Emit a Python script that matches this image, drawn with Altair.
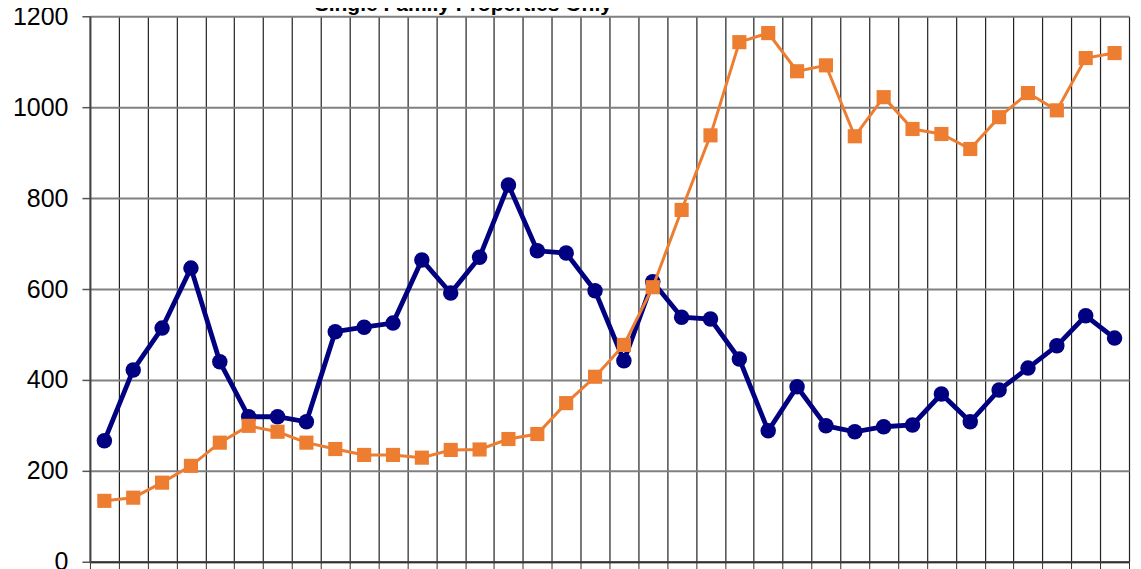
import altair as alt
import pandas as pd

periods = list(range(1, 37))
series_names = ["Series A", "Series B"]
blue_values = [266, 422, 514, 646, 440, 319, 319, 308, 506, 516, 525, 664, 591, 670, 829, 684,
               679, 596, 442, 616, 538, 534, 446, 288, 385, 299, 286, 297, 301, 369, 308, 378,
               426, 475, 541, 492]
orange_values = [134, 141, 174, 211, 262, 299, 286, 262, 248, 235, 235, 229, 246, 247, 270, 281,
                 349, 407, 477, 604, 774, 938, 1143, 1163, 1079, 1092, 936, 1022, 952, 941, 908, 978,
                 1031, 993, 1108, 1119]
y_ticks = [0, 200, 400, 600, 800, 1000, 1200]
title_text = "Single Family Properties Only"

rows = []
for p, v in zip(periods, blue_values):
    rows.append({"period": p, "series": series_names[0], "value": v})
for p, v in zip(periods, orange_values):
    rows.append({"period": p, "series": series_names[1], "value": v})
df = pd.DataFrame(rows)

x_enc = alt.X(
    "period:O",
    sort=periods,
    scale=alt.Scale(paddingInner=0, paddingOuter=0),
    axis=alt.Axis(
        labels=False, title=None, grid=True, bandPosition=0, gridColor="#222222",
        gridWidth=1.2, tickColor="#333333", tickSize=8, tickBand="extent",
        domainColor="#333333", domainWidth=2,
    ),
)
y_enc = alt.Y(
    "value:Q",
    scale=alt.Scale(domain=[0, 1200], nice=False),
    axis=alt.Axis(
        values=y_ticks, format="d", title=None, labelFontSize=25, labelFont="Liberation Sans",
        labelColor="#000000", labelPadding=14, tickSize=8, tickColor="#555555",
        tickWidth=1.5, gridColor="#808080", gridWidth=2, domainColor="#444444",
        domainWidth=2,
    ),
)
color_enc = alt.Color(
    "series:N",
    scale=alt.Scale(domain=series_names, range=["#000080", "#ED7D31"]),
    legend=None,
)

base = alt.Chart(df)

blue_line = base.transform_filter(alt.datum.series == series_names[0]).mark_line(
    strokeWidth=4.8
).encode(x=x_enc, y=y_enc, color=color_enc)
blue_pts = base.transform_filter(alt.datum.series == series_names[0]).mark_point(
    shape="circle", filled=True, size=240, opacity=1
).encode(x=x_enc, y=y_enc, color=color_enc)
orange_line = base.transform_filter(alt.datum.series == series_names[1]).mark_line(
    strokeWidth=3
).encode(x=x_enc, y=y_enc, color=color_enc)
orange_pts = base.transform_filter(alt.datum.series == series_names[1]).mark_point(
    shape="square", filled=True, size=200, opacity=1
).encode(x=x_enc, y=y_enc, color=color_enc)

title_df = pd.DataFrame({"label": [title_text]})
title_layer = alt.Chart(title_df).mark_text(
    align="left", baseline="alphabetic", fontSize=21, font="Liberation Sans",
    fontWeight="bold", color="#000000",
).encode(x=alt.value(225), y=alt.value(-5), text="label:N")

chart = alt.layer(blue_line, blue_pts, orange_line, orange_pts, title_layer).resolve_scale(
    x="shared", y="shared"
).properties(
    width=1040,
    height=546,
    autosize=alt.AutoSizeParams(type="none"),
    padding={"left": 82, "top": 8, "right": 4, "bottom": 30},
).configure_view(
    stroke="#808080", strokeWidth=2
).configure(background="#ffffff")

chart.save("out.html", embed_options={"renderer": "svg", "actions": False})
